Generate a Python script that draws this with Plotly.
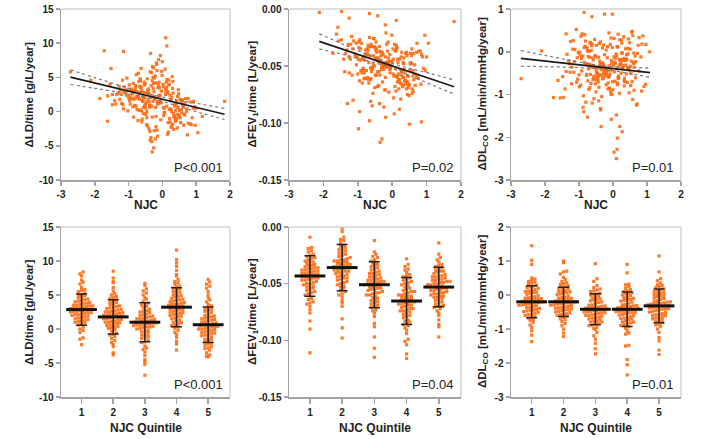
import numpy as np
import plotly.graph_objects as go

W, H = 710, 439

# ---------------- data: top row (scatter vs NJC) ----------------
njc_core = [
    -0.35, 0.12, -0.78, -0.05, 0.42, -1.12, -0.21, 0.65, -0.55, 0.03, -0.92, 0.28, -0.41, -0.66, 0.51, -0.15, -1.35, 0.19, -0.30, 0.74,
    -0.48, 0.08, -0.83, 0.35, -0.12, -1.02, 0.58, -0.26, -0.61, 0.15, -0.38, -0.71, 0.44, -0.09, -1.21, 0.25, -0.52, 0.82, -0.18, -0.88,
    0.05, -0.44, -0.97, 0.31, -0.24, 0.62, -0.58, -0.02, -1.48, 0.38, -0.33, -0.75, 0.11, -0.14, 0.55, -1.05, -0.46, 0.22, -0.68, 0.91,
    -0.27, -0.81, 0.17, -0.52, 0.47, -0.07, -1.18, 0.33, -0.39, 0.71, -0.63, -0.19, 0.02, -0.95, 0.26, -0.43, 0.58, -1.28, -0.11, 0.39,
    -0.57, 0.09, -0.36, -0.86, 0.49, -0.22, 0.13, -0.69, -1.08, 0.29, -0.47, 0.67, -0.03, -0.31, -0.77, 0.21, -1.41, 0.45, -0.16, -0.53,
    0.36, -0.65, -0.08, -1.15, 0.18, -0.42, 0.61, -0.29, -0.91, 0.07, -0.55, 0.84, -0.20, -0.72, 0.32, -0.01, -1.25, 0.53, -0.37, -0.84,
    0.14, -0.49, -0.99, 0.41, -0.13, 0.77, -0.62, -0.25, -1.55, 0.24, -0.40, -0.79, 0.06, -0.17, 0.57, -1.00, -0.50, 0.30, -0.70, 0.96,
    -0.23, -0.89, 0.20, -0.59, 0.43, -0.10, -1.31, 0.37, -0.34, 0.69, -0.67, -0.28, 0.04, -1.07, 0.27, -0.45, 0.63, -0.94, -0.06, 0.48,
    -0.60, 0.16, -0.32, -0.82, 0.52, -0.19, 0.10, -0.73, -1.17, 0.34, -0.51, 0.72, 0.00, -0.28, -0.76, 0.23, -1.62, 0.46, -0.12, -0.56,
    0.39, -0.64, -0.04, -1.22, 0.19, -0.37, 0.66, -0.33, -0.87, 0.11, -0.58, 0.88, -0.24, -0.68, 0.30, -0.16, -1.38, 0.56, -0.43, -0.80,
    0.26, -0.46, -1.04, 0.40, -0.07, 0.60, -0.54, -0.21, -0.93, 0.13, -0.36, -0.63, 0.50, -0.11, -1.14, 0.33, -0.49, 0.76, -0.27, -0.74,
    0.03, -0.39, -0.85, 0.28, -0.20, 0.54, -0.61, -0.06, -1.26, 0.44, -0.30, -0.70, 0.15, -0.15, 0.62, -0.98, -0.44, 0.20, -0.66, 0.85,
]

dld_core = [
    2.1, 4.3, 0.8, -1.2, 1.5, 3.6, 5.2, -0.4, 2.8, 0.6, 1.9, -2.1, 3.3, 4.8, 0.2, 1.1, 2.5, 3.9, -0.8, -3.4,
    1.4, 6.2, 3.0, -0.6, 2.3, 0.1, 1.7, 4.1, -1.5, 2.9, 0.9, 5.6, -2.4, 3.5, 1.2, 0.4, 2.0, -1.8, 7.1, 2.6,
    -0.2, 3.1, 1.6, 4.4, -2.8, 0.7, 2.2, 5.9, 1.0, -1.1, 3.8, 0.3, 2.7, -3.6, 1.3, 4.9, -0.9, 2.4, 1.8, 0.5,
    3.4, 2.0, -1.6, 0.9, 3.2, 1.5, 4.6, -0.3, 2.6, 0.0, 6.3, -0.7, 4.0, 1.1, -2.3, 2.9, 1.7, 3.7, 7.6, -1.4,
    0.6, 2.5, -4.2, 4.1, -0.5, 1.9, 3.6, 0.2, 2.8, 5.1, -1.9, 1.3, 3.0, 0.8, 5.4, -1.0, 1.6, 2.2, -2.7, 3.9,
    1.0, 4.5, 2.3, 0.4, -3.0, 1.7, 0.9, 6.6, 3.3, -0.1, 2.1, 1.4, 4.2, -1.3, 2.7, 5.3, 3.1, -0.9, 0.6, 1.8,
    4.7, -0.4, 2.4, 1.2, 3.5, -1.7, 0.1, 2.9, 4.0, 1.6, -2.5, 3.8, 0.5, 6.9, -0.2, 2.0, 1.1, 3.4, 4.4, 0.7,
    2.2, 3.0, 0.3, 1.5, -1.0, 4.3, 2.7, 0.8, -3.8, 1.9, 3.6, 5.0, -0.6, 2.4, 0.0, 4.8, -2.0, 3.2, 1.4, 2.6,
    -1.1, 2.8, 5.7, 0.9, 1.8, -2.2, 3.3, 2.0, 1.0, -0.8, 4.1, 0.4, 7.3, 1.5, 3.0, -1.5, 2.3, 0.6, 3.9, -0.3,
    0.2, 3.7, 1.3, 2.5, 4.6, -2.9, -0.5, 2.1, 0.7, 3.1, 1.6, -0.9, 4.9, 2.8, -1.8, 6.0, 1.1, 0.3, 2.6, 3.5,
    1.7, 0.0, 3.2, -1.3, 2.4, 1.0, 4.3, -4.0, 2.0, 0.8, 5.8, 3.4, -0.7, 1.2, 2.9, -2.6, 0.5, 1.9, 6.4, 2.2,
    3.6, 1.4, -0.8, 2.1, 0.6, -1.6, 3.0, 8.2, 1.8, -0.4, 4.5, 2.3, -3.3, 1.5, 0.9, 3.9, -2.1, 4.0, 0.2, -1.9,
]
njc_ld_extra = [-2.72, -2.12, -1.72, -1.15, 1.84, 0.10, 0.13, -0.30, -0.26, -0.31, -0.35, -1.62, -1.48, -1.52, 1.00, 0.92, 1.18, 1.05, -1.85, 0.97]
dld_extra = [5.8, 4.6, 8.9, 8.8, 1.5, 10.8, 9.6, -5.9, -5.3, -4.4, 8.5, -1.4, 2.5, 6.3, 0.5, 1.5, -0.7, -3.1, 1.9, -2.0]

dfev_core = [
    -0.045, -0.032, -0.061, -0.052, -0.038, -0.028, -0.071, -0.049, -0.041, -0.057, -0.035, -0.066, -0.043, -0.025, -0.054, -0.047, -0.039, -0.062, -0.051, -0.058,
    -0.036, -0.068, -0.044, -0.053, -0.029, -0.042, -0.074, -0.048, -0.033, -0.060, -0.055, -0.040, -0.064, -0.046, -0.031, -0.079, -0.050, -0.037, -0.021, -0.056,
    -0.059, -0.043, -0.034, -0.067, -0.050, -0.039, -0.085, -0.046, -0.027, -0.063, -0.041, -0.054, -0.072, -0.037, -0.048, -0.030, -0.058, -0.044, -0.065, -0.052,
    -0.040, -0.056, -0.047, -0.033, -0.069, -0.053, -0.024, -0.060, -0.045, -0.038, -0.081, -0.050, -0.035, -0.063, -0.042, -0.055, -0.070, -0.031, -0.048, -0.066,
    -0.052, -0.037, -0.058, -0.043, -0.076, -0.049, -0.034, -0.062, -0.040, -0.055, -0.029, -0.067, -0.046, -0.053, -0.036, -0.088, -0.044, -0.059, -0.051, -0.026,
    -0.063, -0.041, -0.050, -0.035, -0.057, -0.045, -0.072, -0.038, -0.054, -0.031, -0.048, -0.066, -0.042, -0.060, -0.047, -0.023, -0.056, -0.039, -0.083, -0.052,
    -0.034, -0.058, -0.044, -0.070, -0.049, -0.037, -0.061, -0.053, -0.028, -0.065, -0.046, -0.040, -0.092, -0.050, -0.035, -0.057, -0.043, -0.068, -0.032, -0.054,
    -0.047, -0.030, -0.064, -0.051, -0.041, -0.073, -0.036, -0.056, -0.045, -0.060, -0.033, -0.049, -0.078, -0.042, -0.055, -0.038, -0.062, -0.027, -0.050, -0.067,
    -0.055, -0.044, -0.038, -0.061, -0.048, -0.095, -0.052, -0.035, -0.058, -0.043, -0.069, -0.030, -0.047, -0.064, -0.040, -0.053, -0.022, -0.059, -0.046, -0.074,
    -0.039, -0.062, -0.050, -0.044, -0.070, -0.033, -0.057, -0.048, -0.065, -0.036, -0.053, -0.042, -0.086, -0.047, -0.060, -0.031, -0.055, -0.041, -0.068, -0.045,
    -0.058, -0.035, -0.049, -0.063, -0.040, -0.054, -0.026, -0.071, -0.045, -0.059, -0.037, -0.052, -0.066, -0.043, -0.080, -0.048, -0.034, -0.061, -0.050, -0.039,
    -0.044, -0.067, -0.053, -0.038, -0.060, -0.047, -0.031, -0.056, -0.042, -0.075, -0.051, -0.036, -0.064, -0.049, -0.057, -0.029, -0.045, -0.062, -0.098, -0.040,
]
njc_fev_extra = [-2.12, -1.47, -1.30, -0.98, -0.35, -0.30, 1.80, 0.95, 1.05, 1.00, 0.85, 0.50, -1.72, -1.58, -0.66, -0.42, -1.25, -0.20, 0.12, -0.95]
dfev_extra = [-0.003, -0.002, -0.083, -0.105, -0.117, -0.114, -0.011, -0.023, -0.030, -0.042, -0.099, -0.101, -0.039, -0.016, -0.004, -0.006, -0.008, -0.014, -0.010, -0.090]

ddlco_core = [
    -0.30, 0.12, -0.55, -0.21, -0.72, 0.05, -0.38, -0.10, -0.64, 0.31, -0.45, -0.18, -0.83, 0.22, -0.34, -0.58, -0.06, -0.97, -0.26, 0.15,
    -0.49, -0.15, 0.40, -0.70, -0.33, -0.02, -1.12, -0.41, 0.18, -0.62, -0.27, -0.88, 0.08, -0.52, -0.36, 0.27, -0.75, -0.12, -0.44, -1.30,
    -0.24, -0.66, -0.08, 0.35, -0.47, -0.90, -0.19, 0.10, -0.58, -0.31, -1.05, 0.02, -0.40, -0.73, 0.46, -0.14, -0.52, -0.29, 0.20, -0.81,
    -0.37, 0.25, -0.61, -0.11, -0.96, -0.43, 0.06, -0.68, -0.22, -1.22, 0.14, -0.50, -0.32, -0.78, -0.04, -0.56, 0.38, -0.28, -0.85, -0.17,
    -0.60, -0.05, -0.35, -1.40, 0.21, -0.46, -0.77, -0.13, 0.52, -0.39, -0.66, -0.23, -1.00, 0.09, -0.53, -0.30, -0.87, 0.30, -0.42, -0.09,
    -0.20, -0.74, 0.17, -0.48, -0.34, -1.15, -0.03, -0.63, 0.42, -0.27, -0.57, -0.92, 0.04, -0.40, -0.16, -0.70, 0.24, -0.51, -1.33, -0.25,
    0.11, -0.45, -0.82, -0.19, -0.59, 0.33, -0.36, -0.07, -1.08, -0.50, 0.19, -0.29, -0.69, -0.14, 0.48, -0.54, -0.94, -0.32, 0.01, -0.76,
    -0.41, -0.10, 0.28, -0.65, -0.37, -0.86, -0.21, 0.07, -0.55, -1.25, -0.31, 0.16, -0.47, -0.71, -0.02, -0.60, -0.26, 0.36, -0.99, -0.43,
    -0.15, -0.57, -0.30, 0.13, -0.79, -0.44, -1.48, -0.11, 0.26, -0.62, -0.35, -0.04, -0.89, -0.49, 0.09, -0.24, -0.67, -0.39, 0.44, -1.10,
    -0.52, 0.03, -0.28, -0.75, -0.18, 0.23, -0.61, -0.42, -1.03, -0.09, -0.33, 0.37, -0.56, -0.84, -0.20, 0.12, -0.46, -0.70, -0.13, -1.18,
    0.20, -0.38, -0.64, -0.07, -0.93, -0.27, 0.29, -0.51, -0.16, -0.73, -1.36, -0.34, 0.06, -0.58, -0.23, -0.80, 0.15, -0.45, -0.31, -0.68,
    -0.12, -0.54, 0.10, -0.40, -0.77, -0.22, -1.20, 0.32, -0.48, -0.05, -0.63, -0.29, 0.41, -0.87, -0.36, -0.01, -0.71, -0.19, -0.53, 0.18,
]
njc_dl_extra = [-2.70, -2.10, -1.75, -1.45, -0.85, -0.02, -0.25, 0.10, 0.12, 0.03, 0.13, 0.27, 0.20, -0.05, -0.35, -0.75, 1.08, 0.97, -0.62, -1.38]
ddlco_extra = [-0.63, 0.02, -1.07, -1.07, 0.92, 0.88, 0.88, -2.50, -2.28, -2.35, -2.02, -1.87, -1.75, -1.58, -1.75, -1.53, 0.00, 0.17, 0.82, 0.42]

# regression lines and 95% bands
fit_x_ld = [-2.72, -2.0, -1.2, -0.3, 0.6, 1.2, 1.84]
fit_ld = [5.04, 4.18, 3.23, 2.16, 1.09, 0.38, -0.38]
upper_ld = [6.11, 4.96, 3.72, 2.45, 1.56, 1.05, 0.45]
lower_ld = [3.96, 3.40, 2.74, 1.86, 0.60, -0.30, -1.15]

fit_x_fev = [-2.12, -1.4, -0.7, -0.2, 0.4, 1.1, 1.80]
fit_fev = [-0.0284, -0.0357, -0.0429, -0.0479, -0.0541, -0.0612, -0.0683]
upper_fev = [-0.0218, -0.0313, -0.0403, -0.0459, -0.0513, -0.0565, -0.0623]
lower_fev = [-0.0350, -0.0401, -0.0455, -0.0499, -0.0569, -0.0659, -0.0745]

fit_x_dl = [-2.71, -2.0, -1.2, -0.3, 0.3, 0.7, 1.09]
fit_dl = [-0.154, -0.217, -0.287, -0.367, -0.420, -0.455, -0.489]
upper_dl = [0.029, -0.085, -0.209, -0.327, -0.360, -0.371, -0.379]
lower_dl = [-0.337, -0.349, -0.365, -0.407, -0.480, -0.539, -0.599]

# ---------------- data: bottom row (by NJC quintile) ----------------
quintiles = [1, 2, 3, 4, 5]

ld_q1 = [2.9, 3.5, 1.8, 4.2, 2.1, 0.6, 5.3, 3.0, 2.4, 1.2, 6.1, 3.8, 2.7, -0.5, 4.6, 3.3, 1.5, 2.2, 5.8, 0.9,
         3.6, 2.0, 4.9, -1.3, 3.1, 1.7, 2.5, 7.2, 3.9, 0.3, 2.8, 4.4, 1.1, 3.4, 5.1, -2.3, 2.6, 6.6, 1.9, 3.2,
         0.0, 4.0, 2.3, 8.4, 1.4, 3.7, 5.5, 2.9, -1.5, 4.7, 2.1, 3.0, 0.7, 6.9, 2.6, 1.6, 4.3, 3.5, 7.8, -0.2,
         2.4, 5.0, 3.1, 1.0, 4.1, 2.7, 8.1, 3.4, 1.3, 5.7]
ld_q2 = [1.5, 2.8, 0.4, 3.6, -0.9, 2.1, 4.5, 1.0, 5.2, -1.7, 2.5, 0.7, 3.2, 1.8, -0.3, 4.0, 2.3, 6.1, -2.6, 1.2,
         3.0, 0.1, 2.0, 7.5, 1.6, -1.1, 3.9, 0.9, 2.7, 5.6, -3.8, 1.4, 4.3, 2.2, 0.5, -0.6, 3.4, 1.9, 6.8, 0.2,
         2.6, -2.0, 1.3, 4.8, 3.1, 0.8, -1.4, 2.4, 8.5, 1.7, -0.1, 3.7, 2.0, 5.0, 1.1, -3.5, 2.9, 0.6, 4.1, 1.5,
         -0.8, 3.3, 2.2, 7.0, 0.3, 1.8, 4.6, -2.3, 2.5, 1.0]
ld_q3 = [1.2, -0.4, 2.5, 0.6, 3.8, -1.6, 1.9, 0.3, 4.6, -2.5, 1.0, 2.9, -0.8, 0.8, 5.3, 1.5, -3.4, 0.1, 2.2, 6.4,
         -1.1, 0.9, 3.3, -4.5, 1.6, 0.4, 2.7, -0.2, 5.9, 1.1, -2.0, 0.7, 3.6, -5.2, 1.4, -0.6, 2.0, 0.2, 6.7, -1.4,
         1.8, -3.0, 0.5, 4.1, 1.3, -0.9, 2.4, -6.8, 0.0, 3.1, 1.7, -1.9, 0.6, 5.0, -4.8, 1.2, 2.6, -0.3, 0.9, 4.4,
         -2.8, 1.5, 0.3, 3.5, -1.2, 2.1, 5.6, -3.9, 0.8, 1.0]
ld_q4 = [3.0, 4.5, 1.8, 5.7, 2.4, 0.6, 6.8, 3.6, -0.5, 4.1, 2.7, 8.0, 1.2, 3.9, 5.2, -1.8, 2.1, 4.8, 7.3, 0.9,
         3.3, 6.0, 1.5, 2.9, 9.2, -0.2, 4.4, 3.1, 5.5, 0.3, 2.5, 7.8, 3.8, -3.1, 4.9, 1.9, 6.3, 2.2, 10.2, 3.5,
         0.1, 5.0, 2.8, 4.2, -1.2, 3.4, 8.6, 1.6, 4.7, 2.0, 6.6, 0.5, 3.7, 11.6, 2.6, 5.4, -0.8, 4.0, 1.3, 7.0,
         3.2, 2.3, 5.9, 0.8, 4.3, 9.7, 1.0, 3.6, 6.2, -2.2]
ld_q5 = [0.5, -1.2, 1.8, 0.0, 2.9, -0.6, 1.1, -2.4, 3.6, 0.3, -0.9, 2.2, -3.5, 0.8, 4.6, -1.7, 1.4, -0.2, 6.3, -2.9,
         0.6, 2.6, -1.0, 1.2, -4.1, 3.2, 0.2, -0.4, 5.5, -1.5, 1.9, 0.9, -2.1, 7.3, 0.4, -3.1, 2.4, -0.7, 1.6, 4.0,
         -1.9, 0.1, 3.0, -0.3, 6.6, -2.6, 1.0, 0.7, -3.8, 2.0, -0.1, 5.0, -1.3, 1.5, 0.3, -2.2, 3.4, 6.0, -0.8, 1.3,
         -4.0, 0.6, 2.7, -1.6, 4.3, 0.0, -2.8, 1.7, 6.9, -0.5]
ld_mean = [2.86, 1.78, 1.00, 3.21, 0.63]
ld_sd = [2.30, 2.52, 2.86, 2.87, 2.60]

fev_q1 = [-0.043, -0.035, -0.052, -0.029, -0.047, -0.061, -0.038, -0.024, -0.055, -0.041, -0.068, -0.033, -0.045, -0.019, -0.058, -0.040, -0.027, -0.050, -0.073, -0.036,
          -0.044, -0.031, -0.064, -0.048, -0.022, -0.039, -0.054, -0.009, -0.046, -0.083, -0.034, -0.042, -0.059, -0.026, -0.049, -0.037, -0.066, -0.030, -0.051, -0.090,
          -0.040, -0.021, -0.056, -0.045, -0.032, -0.070, -0.038, -0.053, -0.028, -0.111, -0.043, -0.036, -0.063, -0.047, -0.025, -0.041, -0.057, -0.034, -0.076, -0.044,
          -0.018, -0.050, -0.039, -0.060, -0.031, -0.046, -0.067, -0.037, -0.053, -0.042]
fev_q2 = [-0.036, -0.028, -0.045, -0.019, -0.040, -0.053, -0.031, -0.012, -0.048, -0.034, -0.062, -0.025, -0.038, -0.004, -0.051, -0.033, -0.021, -0.043, -0.067, -0.029,
          -0.037, -0.016, -0.056, -0.041, -0.009, -0.032, -0.047, -0.001, -0.039, -0.081, -0.027, -0.035, -0.054, -0.018, -0.042, -0.030, -0.060, -0.023, -0.044, -0.098,
          -0.034, -0.014, -0.050, -0.038, -0.026, -0.065, -0.031, -0.046, -0.020, -0.089, -0.036, -0.029, -0.057, -0.040, -0.017, -0.033, -0.049, -0.024, -0.070, -0.037,
          -0.011, -0.043, -0.032, -0.052, -0.022, -0.039, -0.059, -0.030, -0.045, -0.035]
fev_q3 = [-0.051, -0.043, -0.060, -0.035, -0.055, -0.068, -0.046, -0.029, -0.063, -0.049, -0.076, -0.040, -0.053, -0.024, -0.066, -0.047, -0.033, -0.058, -0.085, -0.044,
          -0.052, -0.030, -0.071, -0.056, -0.026, -0.048, -0.062, -0.012, -0.054, -0.097, -0.041, -0.050, -0.067, -0.032, -0.057, -0.045, -0.074, -0.037, -0.059, -0.107,
          -0.049, -0.027, -0.064, -0.053, -0.039, -0.079, -0.046, -0.061, -0.034, -0.115, -0.052, -0.042, -0.070, -0.055, -0.031, -0.048, -0.065, -0.038, -0.088, -0.050,
          -0.022, -0.058, -0.044, -0.069, -0.036, -0.054, -0.073, -0.041, -0.060, -0.047]
fev_q4 = [-0.065, -0.056, -0.074, -0.047, -0.069, -0.083, -0.059, -0.040, -0.077, -0.062, -0.091, -0.052, -0.067, -0.035, -0.080, -0.060, -0.044, -0.072, -0.099, -0.057,
          -0.066, -0.042, -0.086, -0.070, -0.037, -0.061, -0.076, -0.028, -0.068, -0.104, -0.054, -0.064, -0.082, -0.045, -0.071, -0.058, -0.089, -0.049, -0.073, -0.112,
          -0.063, -0.038, -0.078, -0.067, -0.051, -0.094, -0.060, -0.075, -0.046, -0.116, -0.066, -0.055, -0.085, -0.069, -0.043, -0.062, -0.079, -0.050, -0.101, -0.064,
          -0.033, -0.072, -0.057, -0.084, -0.048, -0.068, -0.087, -0.053, -0.074, -0.061]
fev_q5 = [-0.053, -0.046, -0.061, -0.039, -0.057, -0.068, -0.049, -0.034, -0.064, -0.051, -0.074, -0.043, -0.055, -0.029, -0.066, -0.050, -0.037, -0.059, -0.082, -0.047,
          -0.054, -0.035, -0.070, -0.058, -0.031, -0.048, -0.062, -0.014, -0.056, -0.088, -0.044, -0.052, -0.067, -0.036, -0.060, -0.045, -0.072, -0.041, -0.058, -0.097,
          -0.050, -0.027, -0.065, -0.054, -0.040, -0.076, -0.047, -0.062, -0.038, -0.086, -0.053, -0.044, -0.069, -0.056, -0.033, -0.049, -0.063, -0.042, -0.078, -0.051,
          -0.024, -0.059, -0.046, -0.070, -0.039, -0.055, -0.071, -0.043, -0.061, -0.048]
fev_mean = [-0.0432, -0.0358, -0.0509, -0.0653, -0.0530]
fev_sd = [0.0178, 0.0204, 0.0203, 0.0207, 0.0174]

dl_q1 = [-0.19, 0.05, -0.42, 0.22, -0.30, -0.65, -0.08, 0.38, -0.51, -0.15, -0.88, 0.12, -0.26, 0.50, -0.72, -0.11, 0.29, -0.37, -1.05, -0.02,
         -0.22, 0.16, -0.58, -0.34, 0.44, -0.13, -0.47, 1.02, -0.28, -1.37, 0.08, -0.20, -0.62, 0.33, -0.40, -0.05, -0.80, 0.19, -0.53, 0.90,
         -0.17, 0.26, -0.44, -0.24, 0.02, -0.95, -0.09, -0.56, 0.35, 1.45, -0.21, 0.10, -0.68, -0.32, 0.47, -0.14, -0.49, 0.14, -1.18, -0.25,
         0.40, -0.36, -0.06, -0.75, 0.24, -0.29, -0.60, 0.07, -0.45, -0.12]
dl_q2 = [-0.20, 0.03, -0.41, 0.20, -0.31, -0.62, -0.09, 0.36, -0.50, -0.16, -0.84, 0.11, -0.27, 0.62, -0.70, -0.12, 0.27, -0.38, -1.00, -0.03,
         -0.23, 0.14, -0.56, -0.35, 0.45, -0.14, -0.46, 0.95, -0.29, -1.22, 0.07, -0.21, -0.60, 0.31, -0.39, -0.06, -0.78, 0.18, -0.52, 0.70,
         -0.18, 0.24, -0.43, -0.25, 0.01, -0.90, -0.10, -0.55, 0.33, 1.00, -0.22, 0.09, -0.66, -0.33, 0.52, -0.15, -0.48, 0.12, -1.12, -0.26,
         0.40, -0.37, -0.07, -0.73, 0.22, -0.30, -0.58, 0.05, -0.44, 0.68]
dl_q3 = [-0.43, -0.20, -0.65, 0.00, -0.54, -0.88, -0.32, 0.15, -0.75, -0.39, -1.10, -0.11, -0.50, 0.28, -0.95, -0.35, 0.05, -0.60, -1.30, -0.25,
         -0.46, -0.07, -0.80, -0.58, 0.22, -0.37, -0.70, 0.92, -0.52, -1.73, -0.15, -0.44, -0.85, 0.10, -0.63, -0.29, -1.02, -0.04, -0.77, 0.48,
         -0.41, 0.03, -0.67, -0.48, -0.22, -1.20, -0.33, -0.79, 0.12, -1.58, -0.45, -0.14, -0.90, -0.56, 0.40, -0.38, -0.72, -0.09, -1.42, -0.49,
         0.18, -0.60, -0.30, -0.98, 0.01, -0.53, -0.83, -0.17, -0.68, -0.36]
dl_q4 = [-0.42, -0.18, -0.66, 0.03, -0.53, -0.90, -0.31, 0.16, -0.76, -0.38, -1.15, -0.10, -0.49, 0.30, -0.98, -0.34, 0.07, -0.61, -1.48, -0.24,
         -0.45, -0.06, -0.82, -0.57, 0.25, -0.36, -0.71, 0.90, -0.51, -2.35, -0.14, -0.43, -0.87, 0.12, -0.64, -0.28, -1.05, -0.02, -0.79, 0.65,
         -0.40, 0.05, -0.68, -0.47, -0.21, -1.90, -0.32, -0.80, 0.10, -2.05, -0.44, -0.13, -0.93, -0.55, 0.32, -0.37, -0.73, -0.08, -1.50, -0.48,
         0.20, -0.59, -0.29, -1.12, 0.00, -0.52, -0.85, -0.16, -0.69, -0.35]
dl_q5 = [-0.31, -0.08, -0.55, 0.12, -0.42, -0.78, -0.20, 0.28, -0.64, -0.27, -1.00, 0.01, -0.38, 0.42, -0.86, -0.23, 0.18, -0.50, -1.35, -0.13,
         -0.34, 0.05, -0.70, -0.46, 0.35, -0.25, -0.60, 1.15, -0.40, -1.75, -0.03, -0.32, -0.75, 0.22, -0.52, -0.17, -0.92, 0.08, -0.67, 0.68,
         -0.29, 0.15, -0.57, -0.36, -0.10, -1.10, -0.21, -0.68, 0.25, -1.62, -0.33, -0.02, -0.81, -0.44, 0.48, -0.26, -0.61, 0.03, -1.25, -0.37,
         0.30, -0.48, -0.18, -0.88, 0.10, -0.41, -0.72, -0.05, -0.58, -0.24]
dl_mean = [-0.20, -0.20, -0.42, -0.42, -0.32]
dl_sd = [0.47, 0.43, 0.455, 0.505, 0.495]

# tick labels
njc_ticks = [-3, -2, -1, 0, 1, 2]
njc_ticktext = ["-3", "-2", "-1", "0", "1", "2"]
quint_ticktext = ["1", "2", "3", "4", "5"]
ld_ticks = [-10, -5, 0, 5, 10, 15]
ld_ticktext = ["-10", "-5", "0", "5", "10", "15"]
fev_ticks = [-0.15, -0.10, -0.05, 0.0]
fev_ticktext = ["-0.15", "-0.10", "-0.05", "0.00"]
dl_top_ticks = [-3, -2, -1, 0, 1]
dl_top_ticktext = ["-3", "-2", "-1", "0", "1"]
dl_bot_ticks = [-3, -2, -1, 0, 1, 2]
dl_bot_ticktext = ["-3", "-2", "-1", "0", "1", "2"]

y_titles = ["ΔLD/time [g/L/year]", "ΔFEV<sub>1</sub>/time [L/year]", "ΔDL<sub>CO</sub> [mL/min/mmHg/year]"]
p_top = ["P<0.001", "P=0.02", "P=0.01"]
p_bot = ["P<0.001", "P=0.04", "P=0.01"]

# ---------------- layout helpers ----------------
FONT = "Liberation Sans, Arial, Helvetica, sans-serif"
ORANGE = "#ff6a13"
AXIS_C = "#a3a3a3"
FRAME_C = "#d4d4d4"
TXT = "#222222"

COLS = [(61, 230), (289, 461), (511, 681)]
ROWS = [(9, 180), (227, 397)]
YTITLE_X = [29, 253, 483]


def xdom(c):
    return [COLS[c][0] / W, COLS[c][1] / W]


def ydom(r):
    return [1 - ROWS[r][1] / H, 1 - ROWS[r][0] / H]


def bold(lst):
    return [f"<b>{t}</b>" for t in lst]


def swarm_x(vals, center, ppu_y, ppu_x, dy=3.4, dx=3.2):
    v = np.asarray(vals, float)
    bins = np.floor(v * ppu_y / dy).astype(int)
    xs = np.full(len(v), float(center))
    for b in np.unique(bins):
        idx = np.where(bins == b)[0]
        idx = idx[np.argsort(v[idx])]
        k = len(idx)
        offs = (np.arange(k) - (k - 1) / 2.0) * dx
        xs[idx] = center + offs / ppu_x
    return xs


fig = go.Figure()

top_panels = [
    (njc_core + njc_ld_extra, dld_core + dld_extra, fit_x_ld, fit_ld, upper_ld, lower_ld,
     [-10, 15], ld_ticks, ld_ticktext),
    (njc_core + njc_fev_extra, dfev_core + dfev_extra, fit_x_fev, fit_fev, upper_fev, lower_fev,
     [-0.15, 0.0], fev_ticks, fev_ticktext),
    (njc_core + njc_dl_extra, ddlco_core + ddlco_extra, fit_x_dl, fit_dl, upper_dl, lower_dl,
     [-3, 1], dl_top_ticks, dl_top_ticktext),
]
bot_panels = [
    ([ld_q1, ld_q2, ld_q3, ld_q4, ld_q5], ld_mean, ld_sd, [-10, 15], ld_ticks, ld_ticktext),
    ([fev_q1, fev_q2, fev_q3, fev_q4, fev_q5], fev_mean, fev_sd, [-0.15, 0.0], fev_ticks, fev_ticktext),
    ([dl_q1, dl_q2, dl_q3, dl_q4, dl_q5], dl_mean, dl_sd, [-3, 2], dl_bot_ticks, dl_bot_ticktext),
]

QRANGE = [0.35, 5.69]

axis_common = dict(
    showgrid=False, zeroline=False, showline=True, linecolor=AXIS_C, linewidth=1.5,
    ticks="outside", ticklen=4, tickwidth=1.5, tickcolor=AXIS_C, automargin=False,
    tickfont=dict(family=FONT, size=10, color=TXT),
)

layout_axes = {}
annotations = []
shapes = []

for i in range(6):
    n = i + 1
    r, c = divmod(i, 3)
    xa = "x" if n == 1 else f"x{n}"
    ya = "y" if n == 1 else f"y{n}"
    xkey = "xaxis" if n == 1 else f"xaxis{n}"
    ykey = "yaxis" if n == 1 else f"yaxis{n}"

    if r == 0:
        xs, ys, fx, fy, fu, fl, yr, yt, ytt = top_panels[c]
        m = min(len(xs), len(ys))
        fig.add_trace(go.Scatter(x=xs[:m], y=ys[:m], mode="markers", xaxis=xa, yaxis=ya,
                                 marker=dict(symbol="square", size=3.2, color=ORANGE, opacity=0.9,
                                             line=dict(width=0))))
        for band in (fu, fl):
            fig.add_trace(go.Scatter(x=fx, y=band, mode="lines", xaxis=xa, yaxis=ya,
                                     line=dict(color="#7a7a7a", width=1.2, dash="dot", shape="spline")))
        fig.add_trace(go.Scatter(x=[fx[0], fx[-1]], y=[fy[0], fy[-1]], mode="lines", xaxis=xa, yaxis=ya,
                                 line=dict(color="#1a1a1a", width=1.6)))
        layout_axes[xkey] = dict(axis_common, domain=xdom(c), range=[-3, 2], anchor=ya,
                                 tickvals=njc_ticks, ticktext=bold(njc_ticktext))
        xtitle, xtitle_y = "NJC", 205
        ptxt = p_top[c]
    else:
        groups, means, sds, yr, yt, ytt = bot_panels[c]
        ppu_y = (ROWS[1][1] - ROWS[1][0]) / (yr[1] - yr[0])
        ppu_x = (COLS[c][1] - COLS[c][0]) / (QRANGE[1] - QRANGE[0])
        for q, vals in zip(quintiles, groups):
            fig.add_trace(go.Scatter(x=swarm_x(vals, q, ppu_y, ppu_x), y=vals, mode="markers",
                                     xaxis=xa, yaxis=ya,
                                     marker=dict(symbol="square", size=3.2, color=ORANGE, opacity=0.9,
                                                 line=dict(width=0))))
        fig.add_trace(go.Scatter(x=quintiles, y=means, mode="markers", xaxis=xa, yaxis=ya,
                                 marker=dict(symbol="line-ew", size=22, color="#111111",
                                             line=dict(width=3, color="#111111")),
                                 error_y=dict(type="data", array=sds, visible=True, thickness=1.5,
                                              width=5.5, color="#222222")))
        layout_axes[xkey] = dict(axis_common, domain=xdom(c), range=QRANGE, anchor=ya,
                                 tickvals=quintiles, ticktext=bold(quint_ticktext), ticklen=5)
        xtitle, xtitle_y = "NJC Quintile", 428
        ptxt = p_bot[c]

    layout_axes[ykey] = dict(axis_common, domain=ydom(r), range=yr, anchor=xa,
                             tickvals=yt, ticktext=bold(ytt))

    # light frame on top and right
    shapes.append(dict(type="line", xref=f"{xa} domain", yref=f"{ya} domain", x0=0, x1=1, y0=1, y1=1,
                       line=dict(color=FRAME_C, width=1.5)))
    shapes.append(dict(type="line", xref=f"{xa} domain", yref=f"{ya} domain", x0=1, x1=1, y0=0, y1=1,
                       line=dict(color=FRAME_C, width=1.5)))

    # axis titles
    annotations.append(dict(text=f"<b>{xtitle}</b>", xref="paper", yref="paper",
                            x=(COLS[c][0] + COLS[c][1]) / 2 / W, y=1 - xtitle_y / H,
                            xanchor="center", yanchor="middle", showarrow=False,
                            font=dict(family=FONT, size=12, color=TXT)))
    annotations.append(dict(text=f"<b>{y_titles[c]}</b>", xref="paper", yref="paper",
                            x=YTITLE_X[c] / W, y=1 - (ROWS[r][0] + ROWS[r][1]) / 2 / H,
                            xanchor="center", yanchor="middle", textangle=-90, showarrow=False,
                            font=dict(family=FONT, size=11.5, color=TXT)))
    # P-values
    annotations.append(dict(text=ptxt, xref=f"{xa} domain", yref=f"{ya} domain", x=1, y=0,
                            xanchor="right", yanchor="bottom", xshift=-5, yshift=3, showarrow=False,
                            font=dict(family=FONT, size=13, color=TXT)))

fig.update_layout(
    width=W, height=H, margin=dict(l=0, r=0, t=0, b=0, pad=0),
    paper_bgcolor="white", plot_bgcolor="white", showlegend=False, hovermode=False,
    annotations=annotations, shapes=shapes, **layout_axes,
)

fig.write_html("out.html", config={"displayModeBar": False, "staticPlot": True},
               post_script="document.body.style.margin='0px';")
